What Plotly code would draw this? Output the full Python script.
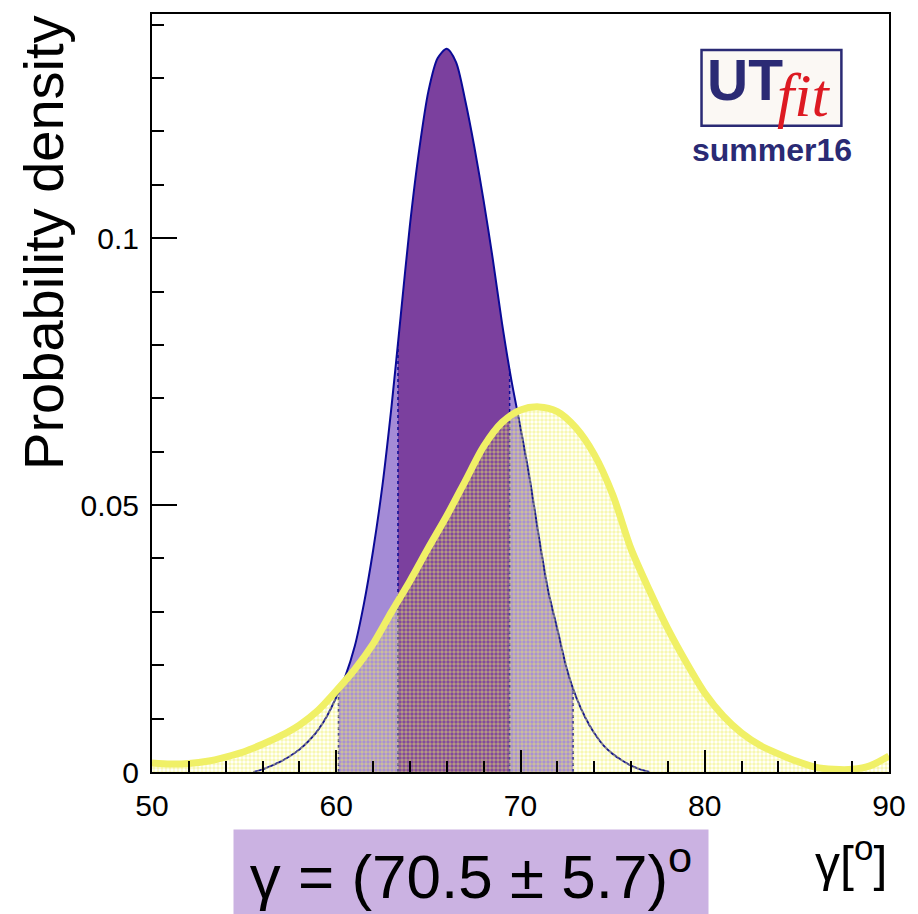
import numpy as np
import plotly.graph_objects as go

# ---- data ----
fit_x = [55.5, 56.0, 56.5, 57.0, 57.5, 58.0, 58.5, 59.0, 59.5, 60.0, 60.5, 61.0, 61.5,
         62.0, 62.5, 63.0, 63.5, 64.0, 64.5, 65.0, 65.5, 66.0, 66.5, 67.0, 67.5, 68.0,
         68.5, 69.0, 69.5, 70.0, 70.5, 71.0, 71.5, 72.0, 72.5, 73.0, 73.5, 74.0, 74.5,
         75.0, 75.5, 76.0, 76.5, 77.0]
fit_y = [0.0, 0.0005, 0.0012, 0.0020, 0.0030, 0.0042, 0.0058, 0.0078, 0.0105, 0.0140,
         0.0180, 0.0235, 0.0315, 0.0415, 0.0535, 0.0685, 0.0855, 0.1025, 0.1165, 0.1275,
         0.1337, 0.1355, 0.1330, 0.1258, 0.1170, 0.1070, 0.0960, 0.0840, 0.0735, 0.0645,
         0.0550, 0.0440, 0.0340, 0.0268, 0.0195, 0.0142, 0.0103, 0.0073, 0.0050, 0.0034,
         0.0022, 0.0012, 0.0005, 0.0]

exp_x = [50, 51, 52, 53, 54, 55, 56, 57, 58, 59, 60, 61, 62, 63, 64, 65, 66, 67, 68, 69,
         70, 71, 72, 73, 74, 75, 76, 77, 78, 79, 80, 81, 82, 83, 84, 85, 86, 87, 88, 89, 90]
exp_y = [0.0017, 0.0015, 0.0016, 0.0020, 0.0028, 0.0038, 0.0052, 0.0068, 0.0088, 0.0115,
         0.0152, 0.0192, 0.0240, 0.0300, 0.0358, 0.0420, 0.0480, 0.0545, 0.0610, 0.0655,
         0.0678, 0.0684, 0.0675, 0.0645, 0.0595, 0.0520, 0.0418, 0.0340, 0.0268, 0.0205,
         0.0148, 0.0105, 0.0073, 0.0050, 0.0034, 0.0020, 0.0009, 0.0005, 0.0005, 0.0012,
         0.0030]

interval_68 = [63.35, 69.41]
interval_95 = [60.12, 72.86]

x_tick_vals = [50, 60, 70, 80, 90]
y_tick_vals = [0, 0.05, 0.1]
y_tick_text = ["0", "0.05", "0.1"]

result_text = "γ = (70.5 ± 5.7)<sup>o</sup>"
x_title = "γ[<sup>o</sup>]"
y_title = "Probability density"

# ---- colours ----
NAVY = "#0a0a96"
DARK_PURPLE = "#7b409e"
LIGHT_PURPLE = "#a48bd6"
YELLOW = "#f0f066"
LOGO_NAVY = "#2a2a74"

# ---- layout geometry ----
W, H = 918, 914
ML, MR, MT, MB = 152, 23, 13, 142
PW, PH = W - ML - MR, H - MT - MB


def px(xp):
    return (xp - ML) / PW


def py(yp):
    return (H - MB - yp) / PH


fx = np.array(fit_x)
fy = np.array(fit_y)


def region(lo, hi):
    xs = [lo] + [x for x in fit_x if lo < x < hi] + [hi]
    ys = list(np.interp(xs, fx, fy))
    return xs, ys


SPL = dict(shape="spline", smoothing=0.8)

fig = go.Figure()

# 95% region
xs, ys = region(*interval_95)
fig.add_trace(go.Scatter(x=xs, y=ys, mode="lines", fill="tozeroy",
                         fillcolor=LIGHT_PURPLE, line=dict(width=0, **SPL), hoverinfo="skip"))
# 68% region
xs, ys = region(*interval_68)
fig.add_trace(go.Scatter(x=xs, y=ys, mode="lines", fill="tozeroy",
                         fillcolor=DARK_PURPLE, line=dict(width=0, **SPL), hoverinfo="skip"))
# boundary dotted lines
for b in interval_95 + interval_68:
    h = float(np.interp(b, fx, fy))
    fig.add_trace(go.Scatter(x=[b, b], y=[0, h], mode="lines",
                             line=dict(color=NAVY, width=1.5, dash="dot"), hoverinfo="skip"))
# fit curve outline
fig.add_trace(go.Scatter(x=fit_x, y=fit_y, mode="lines",
                         line=dict(color=NAVY, width=2, **SPL), hoverinfo="skip"))
# yellow (experimental) fill with dotted pattern
fig.add_trace(go.Scatter(x=exp_x, y=exp_y, mode="lines", fill="tozeroy",
                         fillcolor="rgba(0,0,0,0)",
                         fillpattern=dict(shape=".", fgcolor=YELLOW, bgcolor="rgba(0,0,0,0)",
                                          size=4, solidity=0.6),
                         line=dict(width=0, **SPL), hoverinfo="skip"))
fig.add_trace(go.Scatter(x=exp_x, y=exp_y, mode="lines", line=dict(color=YELLOW, width=7, **SPL),
                         hoverinfo="skip"))

axis_font = dict(family="Liberation Sans, Arial, sans-serif", size=30, color="black")

fig.update_xaxes(range=[50, 90], tickvals=x_tick_vals, ticks="inside", ticklen=22,
                 tickwidth=2, tickcolor="black", showline=True, linewidth=2, linecolor="black",
                 mirror=True, showgrid=False, zeroline=False, tickfont=axis_font,
                 ticklabelstandoff=6,
                 minor=dict(dtick=2, ticks="inside", ticklen=11, tickwidth=2, tickcolor="black",
                            showgrid=False))
fig.update_yaxes(range=[0, 0.142], tickvals=y_tick_vals, ticktext=y_tick_text, ticks="inside",
                 ticklen=25, tickwidth=2, tickcolor="black", showline=True, linewidth=2,
                 linecolor="black", mirror=True, showgrid=False, zeroline=False,
                 tickfont=axis_font, ticklabelstandoff=5,
                 minor=dict(dtick=0.01, ticks="inside", ticklen=12, tickwidth=2,
                            tickcolor="black", showgrid=False))

annotations = [
    dict(text=y_title, textangle=-90, x=px(42), y=1.0, xref="paper", yref="paper",
         xanchor="center", yanchor="top", showarrow=False,
         font=dict(family="Liberation Sans, Arial, sans-serif", size=56, color="black")),
    dict(text=x_title, x=1.0, y=py(826), xref="paper", yref="paper", xanchor="right",
         yanchor="top", showarrow=False,
         font=dict(family="Liberation Sans, Arial, sans-serif", size=50, color="black")),
    dict(text=result_text, x=px(474), y=py(872), xref="paper", yref="paper",
         xanchor="center", yanchor="middle", showarrow=False, width=474, height=84,
         borderpad=0, bgcolor="#cbb2e2", align="center", valign="middle",
         font=dict(family="Liberation Sans, Arial, sans-serif", size=62, color="black")),
    # logo texts
    dict(text="<b>UT</b>", x=px(709), y=py(45), xref="paper", yref="paper",
         xanchor="left", yanchor="top", showarrow=False,
         font=dict(family="Liberation Sans, Arial, sans-serif", size=57, color=LOGO_NAVY)),
    dict(text="<i>fit</i>", x=px(780), y=py(58), xref="paper", yref="paper",
         xanchor="left", yanchor="top", showarrow=False,
         font=dict(family="Liberation Serif, Times New Roman, serif", size=62, color="#dd1a22")),
    dict(text="<b>summer16</b>", x=px(777), y=py(149), xref="paper", yref="paper",
         xanchor="center", yanchor="middle", showarrow=False,
         font=dict(family="Liberation Sans, Arial, sans-serif", size=32, color=LOGO_NAVY)),
]

shapes = [
    dict(type="rect", xref="paper", yref="paper", x0=px(706), x1=px(847), y0=py(125), y1=py(49),
         fillcolor="#fbf8f4", line=dict(color=LOGO_NAVY, width=2.5), layer="above"),
]

fig.update_layout(width=W, height=H, autosize=False,
                  margin=dict(l=ML, r=MR, t=MT, b=MB, pad=0),
                  paper_bgcolor="white", plot_bgcolor="white", showlegend=False,
                  annotations=annotations, shapes=shapes)

fig.write_html("out.html")
